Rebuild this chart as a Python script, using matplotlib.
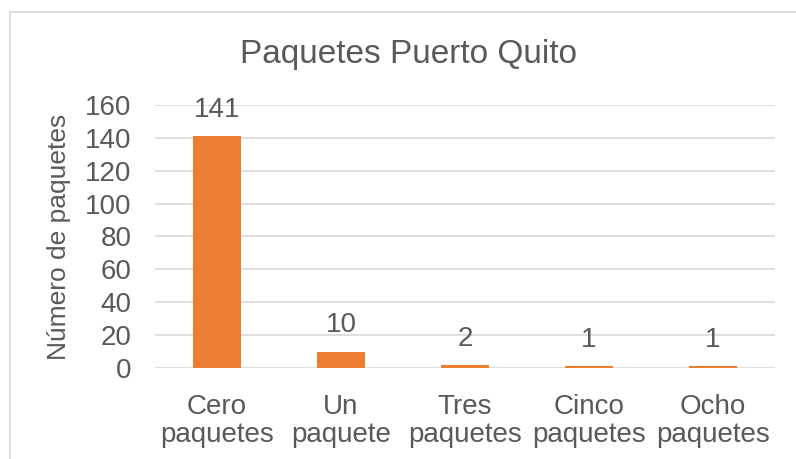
import matplotlib.pyplot as plt
from matplotlib.lines import Line2D

plt.rcParams['font.family'] = ['Liberation Sans', 'DejaVu Sans']

# data
categorias = ["Cero\npaquetes", "Un\npaquete", "Tres\npaquetes", "Cinco\npaquetes", "Ocho\npaquetes"]
valores = [141, 10, 2, 1, 1]
yticks = [0, 20, 40, 60, 80, 100, 120, 140, 160]

gris = '#595959'
naranja = '#ED7D31'

fig = plt.figure(figsize=(7.96, 4.59), dpi=100)
ax = fig.add_axes([0.1947, 0.1983, 0.7789, 0.5729])

x = range(len(categorias))
bars = ax.bar(x, valores, width=0.39, color=naranja, zorder=3)
for b, v in zip(bars, valores):
    ax.text(b.get_x() + b.get_width() / 2, v + 8, str(v), ha='center', va='bottom',
            fontsize=20, color=gris)

ax.set_xlim(-0.5, len(categorias) - 0.5)
ax.set_ylim(0, 160)
ax.set_yticks(yticks)
ax.set_xticks(list(x))
ax.set_xticklabels(categorias, linespacing=1.1)
ax.tick_params(axis='both', length=0, labelsize=20, labelcolor=gris)
ax.tick_params(axis='y', pad=17)
ax.tick_params(axis='x', pad=19)
ax.grid(axis='y', color='#D9D9D9', linewidth=1.2, zorder=0)
for s in ax.spines.values():
    s.set_visible(False)

ax.set_ylabel("Número de paquetes", fontsize=19, color=gris)
ax.yaxis.set_label_coords(-0.135, 0.5)

fig.text(0.513, 0.882, "Paquetes Puerto Quito", ha='center', va='center',
         fontsize=24, color=gris)

# chart border (top and left visible in the crop)
fig.add_artist(Line2D([0.0126, 1.0], [0.973, 0.973], color='#D9D9D9', linewidth=1.2))
fig.add_artist(Line2D([0.0126, 0.0126], [0.0, 0.973], color='#D9D9D9', linewidth=1.2))

fig.savefig("out.png", dpi=100)
